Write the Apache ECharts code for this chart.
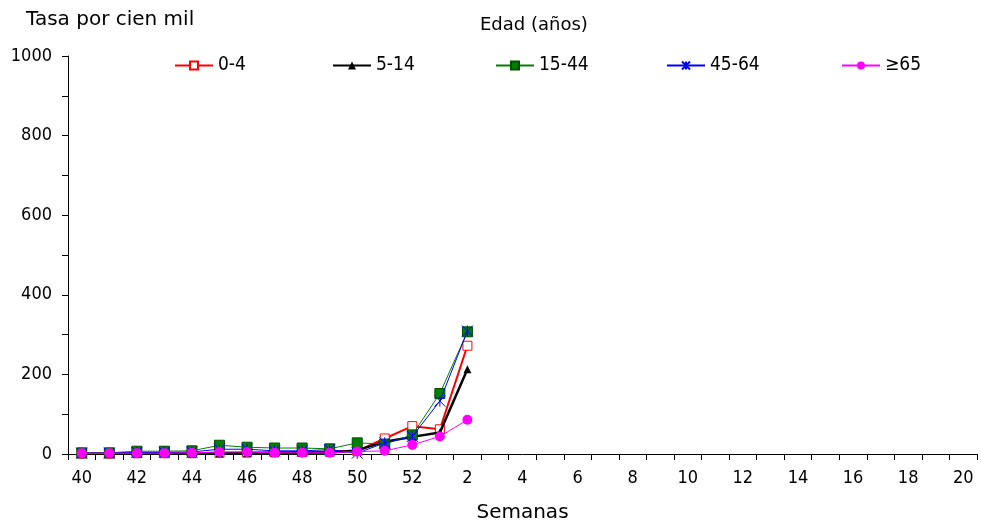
<!DOCTYPE html>
<html><head><meta charset="utf-8">
<script src="https://cdn.jsdelivr.net/npm/echarts@6/dist/echarts.min.js"></script>
<style>html,body{margin:0;padding:0;background:#fff}#c{width:981px;height:527px}</style>
</head><body><div id="c"></div>
<script>
const weeks = ['40','41','42','43','44','45','46','47','48','49','50','51','52','1','2','3','4','5','6','7','8','9','10','11','12','13','14','15','16','17','18','19','20'];
const names = ['0-4','5-14','15-44','45-64','≥65'];
const s0_4   = [1,1,2,2,2,3,4,5,5,6,8,39,70,62,272];
const s5_14  = [1,1,1,1,1,2,2,2,3,4,9,31,43,54,213];
const s15_44 = [3,3,7,7,8,22,17,15,15,13,28,25,48,152,307];
const s45_64 = [2,2,4,4,5,12,12,8,8,11,2,28,44,133,309];
const s65    = [2,2,2,2,3,5,5,3,3,3,6,8,23,44,86];
const yTicks = [0,200,400,600,800,1000];

const FONT = '"DejaVu Sans Condensed", "Liberation Sans", sans-serif';
const FONT2 = '"DejaVu Sans", sans-serif';
const asterisk = 'path://M0,0L10,10M10,0L0,10M5,0L5,10';
const styles = [
  {color:'#FF0000', width:2,   symbol:'rect',     size:9,  fill:'#FFFFFF', border:'#FF0000', bw:1},
  {color:'#000000', width:2.5, symbol:'triangle', size:8,  fill:'#000000', border:'#000000', bw:0},
  {color:'#008000', width:1,   symbol:'rect',     size:10, fill:'#008000', border:'#005000', bw:1},
  {color:'#0000FF', width:1,   symbol:asterisk,   size:11, fill:'#0000FF', border:'#0000FF', bw:1},
  {color:'#FF00FF', width:1,   symbol:'circle',   size:10, fill:'#FF00FF', border:'#FF00FF', bw:0}
];
const dataSets = [s0_4, s5_14, s15_44, s45_64, s65];
const legendLeft = [169, 327, 490, 661, 836];

const chart = echarts.init(document.getElementById('c'), null, {renderer:'canvas'});
chart.setOption({
  animation:false,
  textStyle:{fontFamily:FONT},
  title:[
    {text:'Tasa por cien mil', left:21, top:5, textStyle:{fontFamily:FONT2, fontSize:20, fontWeight:'normal', color:'#000'}},
    {text:'Edad (años)', left:475, top:11, textStyle:{fontFamily:FONT2, fontSize:18, fontWeight:'normal', color:'#000'}}
  ],
  legend: names.map((n,i)=>({
    data:[n], left:legendLeft[i], top:51, itemWidth:38, itemHeight:10, itemGap:0,
    textStyle:{fontFamily:FONT, fontSize:19, color:'#000'}
  })),
  grid:{left:68, right:4, top:56, bottom:73, containLabel:false, outerBoundsMode:'none'},
  xAxis:{
    type:'category', data:weeks, boundaryGap:true,
    name:'Semanas', nameLocation:'middle', nameGap:49,
    nameTextStyle:{fontFamily:FONT2, fontSize:20, color:'#000'},
    axisLine:{lineStyle:{color:'#000', width:1}},
    axisTick:{show:true, interval:0, length:6, lineStyle:{color:'#000'}},
    axisLabel:{interval:1, margin:15, fontFamily:FONT, fontSize:18, color:'#000'},
    splitLine:{show:false}
  },
  yAxis:{
    type:'value', min:0, max:1000, interval:100,
    axisLine:{show:true, lineStyle:{color:'#000', width:1}},
    axisTick:{show:true, length:6, lineStyle:{color:'#000'}},
    axisLabel:{margin:16, fontFamily:FONT, fontSize:18, color:'#000',
      formatter:v=> yTicks.includes(v) ? String(v) : ''},
    splitLine:{show:false}
  },
  series: names.map((n,i)=>({
    name:n, type:'line', data:dataSets[i], symbol:styles[i].symbol, symbolSize:styles[i].size,
    showSymbol:true, z:2+i,
    lineStyle:{color:styles[i].color, width:styles[i].width},
    itemStyle:{color:styles[i].fill, borderColor:styles[i].border, borderWidth:styles[i].bw},
    emphasis:{disabled:true}
  }))
});
</script></body></html>
